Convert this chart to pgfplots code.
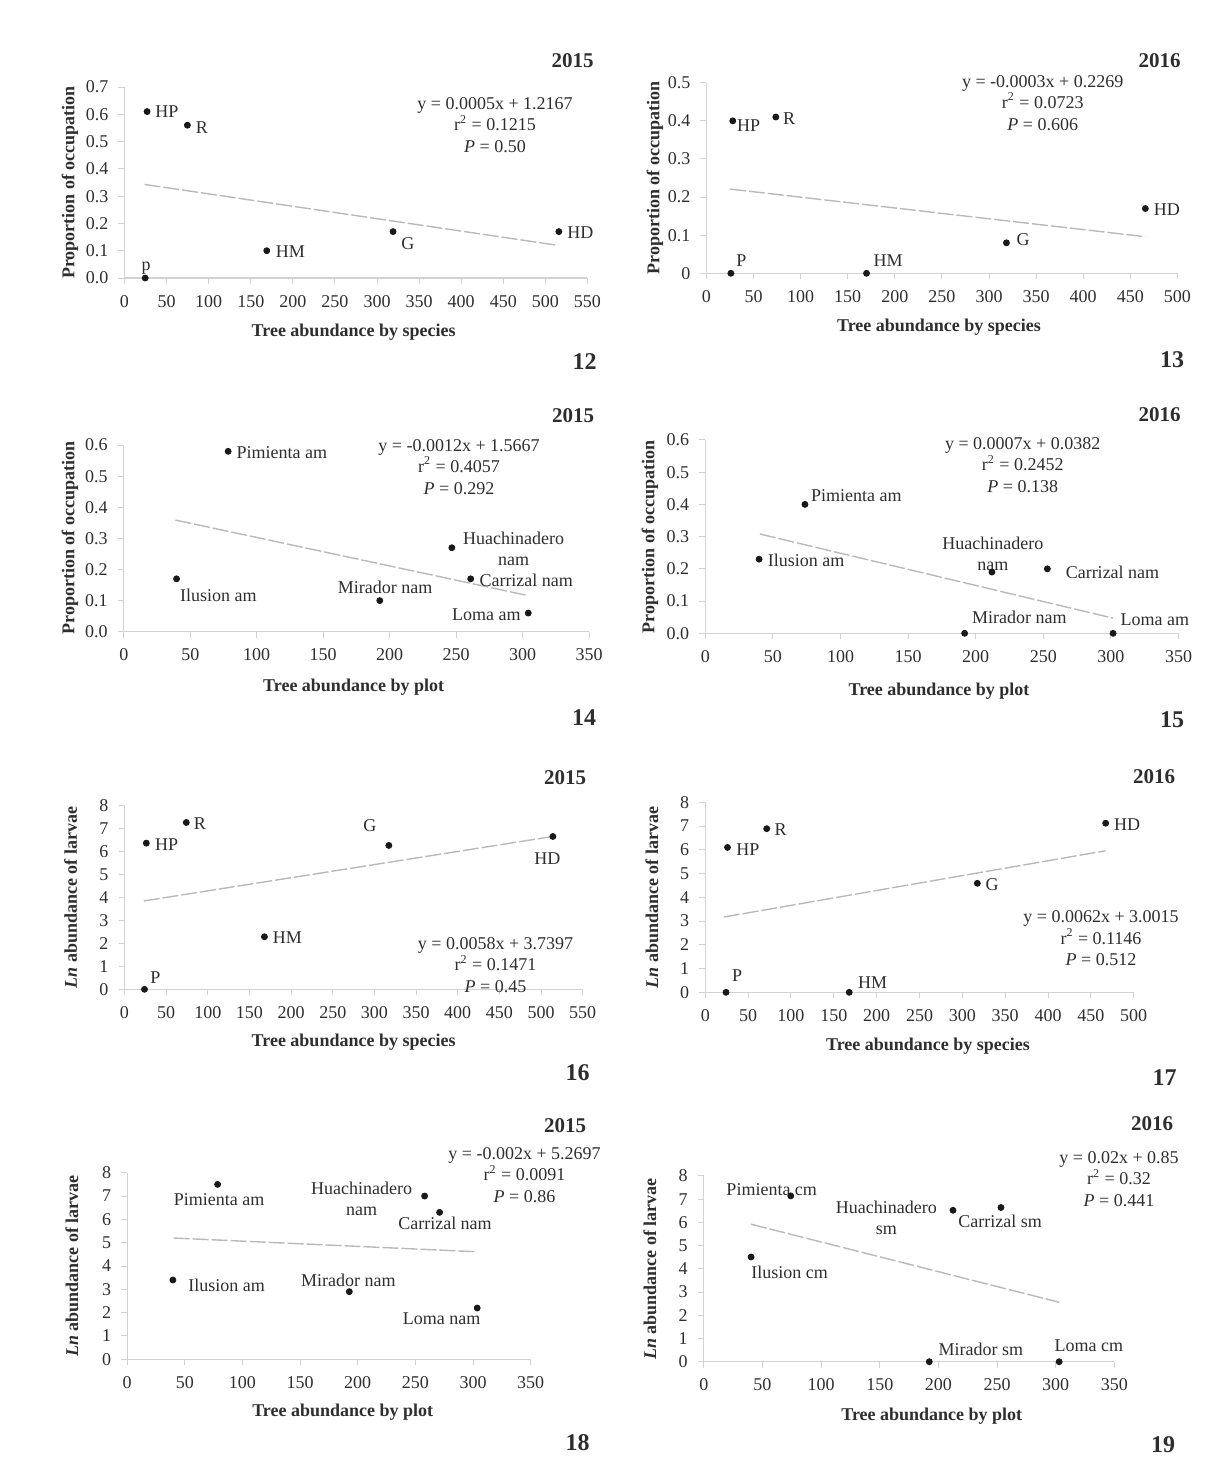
\documentclass[border=0pt]{standalone}
\usepackage{fontspec}
\setmainfont{Liberation Serif}
\usepackage{pgfplots}
\pgfplotsset{compat=1.18}
\def\U{0.5pt}
\newcommand{\fs}{\fontsize{9}{10.75}\selectfont}
\definecolor{txt}{gray}{0.18}
\pgfplotsset{
  panel/.style={
    scale only axis, anchor=south west,
    axis lines*=left,
    axis line style={gray!35, line width=0.6pt},
    tick style={gray!35, line width=0.5pt},
    major tick length=3pt, tick align=outside,
    ticklabel style={font=\fs, text=txt},
    yticklabel style={xshift=-1.5pt},
    xticklabel style={yshift=-2pt},
    /pgf/number format/assume math mode=true,
    clip=false, scaled ticks=false,
  },
  pts/.style={only marks, mark=*, mark size=1.5pt, black!90},
  trend/.style={gray!55, line width=0.7pt, dash pattern=on 8pt off 1.5pt},
  zf/.style={yticklabel style={/pgf/number format/.cd, fixed, fixed zerofill, precision=1}},
}
\newcommand{\lab}[5]{\node[font=\fs, text=txt, inner sep=0pt, anchor=#1, xshift=#2, yshift=#3, align=center] at (axis cs:#4) {#5};}
\newcommand{\abs}[4]{\node[inner sep=0pt, text=txt, #1] at ({#2*\U},{-#3*\U}) {#4};}
\newcommand{\eqn}[5]{\node[font=\fs, text=txt, inner sep=0pt, align=center] at ({#1*\U},{-#2*\U}) {#3\\r\textsuperscript{2} = #4\\\textit{P} = #5};}
\begin{document}
\begin{tikzpicture}
\path[use as bounding box] (0,0) rectangle ({1228*\U},{-1479*\U});

% ---------- 12 ----------
\begin{axis}[panel, zf, at={({124.5*\U},{-278*\U})}, width=231.5pt, height=95.5pt,
  xmin=0, xmax=550, ymin=0, ymax=0.7,
  xtick={0,50,...,550}, ytick={0,0.1,0.2,0.3,0.4,0.5,0.6,0.7}]
\addplot[trend] coordinates {(23.8,0.343) (512,0.121)};
\addplot[pts] coordinates {(24.6,0) (26.8,0.61) (74.7,0.56) (169,0.10) (319,0.17) (516,0.17)};
\lab{west}{4pt}{0pt}{26.8,0.61}{HP}
\lab{west}{4pt}{-1pt}{74.7,0.56}{R}
\lab{west}{4.4pt}{-0.5pt}{169,0.10}{HM}
\lab{west}{4pt}{-6pt}{319,0.17}{G}
\lab{west}{4pt}{-0.5pt}{516,0.17}{HD}
\lab{base}{0.5pt}{4pt}{24.6,0}{p}
\end{axis}
\abs{font=\fontsize{10.5}{12}\bfseries, anchor=east}{594}{60.7}{2015}
\eqn{495}{125}{y = 0.0005x + 1.2167}{0.1215}{0.50}
\abs{font=\fontsize{12}{14}\bfseries, anchor=east}{597}{361.7}{12}
\abs{font=\fs\bfseries}{353.6}{331.7}{Tree abundance by species}
\abs{font=\fs\bfseries, rotate=90}{70}{182.5}{Proportion of occupation}

% ---------- 13 ----------
\begin{axis}[panel, at={({706.4*\U},{-273.3*\U})}, width=235.5pt, height=95.3pt,
  xmin=0, xmax=500, ymin=0, ymax=0.5,
  xtick={0,50,...,500}, ytick={0,0.1,0.2,0.3,0.4,0.5}]
\addplot[trend] coordinates {(25,0.221) (466,0.096)};
\addplot[pts] coordinates {(26,0) (28,0.40) (73.7,0.41) (170,0) (318.5,0.08) (466,0.17)};
\lab{west}{2pt}{-2.5pt}{28,0.40}{HP}
\lab{west}{3.5pt}{-1pt}{73.7,0.41}{R}
\lab{base west}{2.5pt}{3.4pt}{26,0}{P}
\lab{base west}{3.3pt}{3.4pt}{170,0}{HM}
\lab{west}{4.9pt}{1.7pt}{318.5,0.08}{G}
\lab{west}{4pt}{-0.8pt}{466,0.17}{HD}
\end{axis}
\abs{font=\fontsize{10.5}{12}\bfseries, anchor=east}{1181}{60.7}{2016}
\eqn{1042.7}{102.7}{y = -0.0003x + 0.2269}{0.0723}{0.606}
\abs{font=\fontsize{12}{14}\bfseries, anchor=east}{1184.5}{360}{13}
\abs{font=\fs\bfseries}{939}{326.7}{Tree abundance by species}
\abs{font=\fs\bfseries, rotate=90}{655}{178}{Proportion of occupation}

% ---------- 14 ----------
\begin{axis}[panel, zf, at={({123.8*\U},{-631.7*\U})}, width=232.6pt, height=93.3pt,
  xmin=0, xmax=350, ymin=0, ymax=0.6,
  xtick={0,50,...,350}, ytick={0,0.1,0.2,0.3,0.4,0.5,0.6}]
\addplot[trend] coordinates {(38.9,0.359) (304.3,0.116)};
\addplot[pts] coordinates {(39.7,0.17) (78.5,0.58) (192.6,0.10) (246.8,0.27) (261,0.17) (304.3,0.06)};
\lab{west}{4pt}{-0.5pt}{78.5,0.58}{Pimienta am}
\lab{west}{1.6pt}{-8.5pt}{39.7,0.17}{Ilusion am}
\lab{center}{2.7pt}{6.8pt}{192.6,0.10}{Mirador nam}
\lab{center}{30.9pt}{-0.5pt}{246.8,0.27}{Huachinadero\\nam}
\lab{west}{4.2pt}{-0.8pt}{261,0.17}{Carrizal nam}
\lab{east}{-3.6pt}{-0.8pt}{304.3,0.06}{Loma am}
\end{axis}
\abs{font=\fontsize{10.5}{12}\bfseries, anchor=east}{594.4}{416}{2015}
\eqn{459}{466.7}{y = -0.0012x + 1.5667}{0.4057}{0.292}
\abs{font=\fontsize{12}{14}\bfseries, anchor=east}{596.5}{718}{14}
\abs{font=\fs\bfseries}{353.6}{687.3}{Tree abundance by plot}
\abs{font=\fs\bfseries, rotate=90}{70}{538}{Proportion of occupation}

% ---------- 15 ----------
\begin{axis}[panel, zf, at={({705.3*\U},{-633.3*\U})}, width=236.6pt, height=96.7pt,
  xmin=0, xmax=350, ymin=0, ymax=0.6,
  xtick={0,50,...,350}, ytick={0,0.1,0.2,0.3,0.4,0.5,0.6}]
\addplot[trend] coordinates {(40.4,0.308) (301.6,0.047)};
\addplot[pts] coordinates {(39.8,0.23) (73.7,0.40) (191.8,0) (212,0.19) (253,0.20) (301.6,0)};
\lab{west}{2.9pt}{4.2pt}{73.7,0.40}{Pimienta am}
\lab{west}{4.2pt}{-0.8pt}{39.8,0.23}{Ilusion am}
\lab{center}{0.5pt}{9.2pt}{212,0.19}{Huachinadero\\nam}
\lab{west}{9pt}{-1.7pt}{253,0.20}{Carrizal nam}
\lab{west}{3.6pt}{8pt}{191.8,0}{Mirador nam}
\lab{west}{3.6pt}{6.7pt}{301.6,0}{Loma am}
\end{axis}
\abs{font=\fontsize{10.5}{12}\bfseries, anchor=east}{1181}{415}{2016}
\eqn{1022.7}{465}{y = 0.0007x + 0.0382}{0.2452}{0.138}
\abs{font=\fontsize{12}{14}\bfseries, anchor=east}{1184.5}{720}{15}
\abs{font=\fs\bfseries}{939}{690.7}{Tree abundance by plot}
\abs{font=\fs\bfseries, rotate=90}{650}{536.7}{Proportion of occupation}

% ---------- 16 ----------
\begin{axis}[panel, at={({124.5*\U},{-989.3*\U})}, width=229.1pt, height=91.8pt,
  xmin=0, xmax=550, ymin=0, ymax=8,
  xtick={0,50,...,550}, ytick={0,1,...,8}]
\addplot[trend] coordinates {(23.1,3.85) (514,6.66)};
\addplot[pts] coordinates {(24,0) (26.2,6.37) (74.2,7.27) (168,2.29) (317.3,6.27) (514.2,6.66)};
\lab{west}{3.6pt}{-0.5pt}{74.2,7.27}{R}
\lab{west}{4.2pt}{-0.5pt}{26.2,6.37}{HP}
\lab{center}{-9.5pt}{9.8pt}{317.3,6.27}{G}
\lab{center}{-2.7pt}{-11pt}{514.2,6.66}{HD}
\lab{west}{4pt}{-0.5pt}{168,2.29}{HM}
\lab{west}{2.7pt}{6pt}{24,0}{P}
\end{axis}
\abs{font=\fontsize{10.5}{12}\bfseries, anchor=east}{586.4}{777.3}{2015}
\eqn{495.5}{965}{y = 0.0058x + 3.7397}{0.1471}{0.45}
\abs{font=\fontsize{12}{14}\bfseries, anchor=east}{590}{1073}{16}
\abs{font=\fs\bfseries}{353.6}{1041.7}{Tree abundance by species}
\abs{font=\fs\bfseries, rotate=90}{70.7}{897.5}{\textit{Ln} abundance of larvae}

% ---------- 17 ----------
\begin{axis}[panel, at={({705.3*\U},{-992.3*\U})}, width=214.2pt, height=95pt,
  xmin=0, xmax=500, ymin=0, ymax=8,
  xtick={0,50,...,500}, ytick={0,1,...,8}]
\addplot[trend] coordinates {(21.6,3.17) (467,5.96)};
\addplot[pts] coordinates {(24.2,0) (25.9,6.1) (71.7,6.89) (168,0) (317.5,4.59) (467.3,7.12)};
\lab{west}{3.8pt}{-0.7pt}{71.7,6.89}{R}
\lab{west}{4.2pt}{-1pt}{25.9,6.1}{HP}
\lab{west}{4pt}{-0.8pt}{467.3,7.12}{HD}
\lab{west}{4pt}{-0.5pt}{317.5,4.59}{G}
\lab{west}{2.9pt}{8.3pt}{24.2,0}{P}
\lab{west}{4.2pt}{4.8pt}{168,0}{HM}
\end{axis}
\abs{font=\fontsize{10.5}{12}\bfseries, anchor=east}{1175.5}{776.7}{2016}
\eqn{1101}{938.3}{y = 0.0062x + 3.0015}{0.1146}{0.512}
\abs{font=\fontsize{12}{14}\bfseries, anchor=east}{1177}{1078}{17}
\abs{font=\fs\bfseries}{928}{1046}{Tree abundance by species}
\abs{font=\fs\bfseries, rotate=90}{652}{897.3}{\textit{Ln} abundance of larvae}

% ---------- 18 ----------
\begin{axis}[panel, at={({127.1*\U},{-1359.3*\U})}, width=201.8pt, height=93.3pt,
  xmin=0, xmax=350, ymin=0, ymax=8,
  xtick={0,50,...,350}, ytick={0,1,...,8}]
\addplot[trend] coordinates {(40.4,5.2) (303.6,4.61)};
\addplot[pts] coordinates {(39.7,3.4) (78.5,7.5) (192.7,2.9) (258,7.0) (271,6.3) (303.6,2.2)};
\lab{center}{0.7pt}{-7.8pt}{78.5,7.5}{Pimienta am}
\lab{center}{-31.5pt}{-1.3pt}{258,7.0}{Huachinadero\\nam}
\lab{center}{2.7pt}{-5.5pt}{271,6.3}{Carrizal nam}
\lab{west}{7.6pt}{-2.8pt}{39.7,3.4}{Ilusion am}
\lab{center}{-0.5pt}{5.8pt}{192.7,2.9}{Mirador nam}
\lab{center}{-17.8pt}{-5.2pt}{303.6,2.2}{Loma nam}
\end{axis}
\abs{font=\fontsize{10.5}{12}\bfseries, anchor=east}{586.4}{1126}{2015}
\eqn{524.5}{1175}{y = -0.002x + 5.2697}{0.0091}{0.86}
\abs{font=\fontsize{12}{14}\bfseries, anchor=east}{590}{1442.7}{18}
\abs{font=\fs\bfseries}{342.7}{1411.7}{Tree abundance by plot}
\abs{font=\fs\bfseries, rotate=90}{71.8}{1266}{\textit{Ln} abundance of larvae}

% ---------- 19 ----------
\begin{axis}[panel, at={({703.8*\U},{-1361.7*\U})}, width=205.3pt, height=92.9pt,
  xmin=0, xmax=350, ymin=0, ymax=8,
  xtick={0,50,...,350}, ytick={0,1,...,8}]
\addplot[trend] coordinates {(40.3,5.92) (302.9,2.56)};
\addplot[pts] coordinates {(40.3,4.51) (74.1,7.14) (192.2,0) (212.4,6.52) (253.3,6.64) (302.9,0)};
\lab{center}{-9.5pt}{3.3pt}{74.1,7.14}{Pimienta cm}
\lab{center}{-33.3pt}{-3.8pt}{212.4,6.52}{Huachinadero\\sm}
\lab{center}{-0.4pt}{-7pt}{253.3,6.64}{Carrizal sm}
\lab{west}{0pt}{-7.7pt}{40.3,4.51}{Ilusion cm}
\lab{west}{4.5pt}{6.2pt}{192.2,0}{Mirador sm}
\lab{center}{14.9pt}{8pt}{302.9,0}{Loma cm}
\end{axis}
\abs{font=\fontsize{10.5}{12}\bfseries, anchor=east}{1173.6}{1124}{2016}
\eqn{1119}{1179}{y = 0.02x + 0.85}{0.32}{0.441}
\abs{font=\fontsize{12}{14}\bfseries, anchor=east}{1175.5}{1445}{19}
\abs{font=\fs\bfseries}{931.8}{1416}{Tree abundance by plot}
\abs{font=\fs\bfseries, rotate=90}{650}{1269}{\textit{Ln} abundance of larvae}
\end{tikzpicture}
\end{document}
